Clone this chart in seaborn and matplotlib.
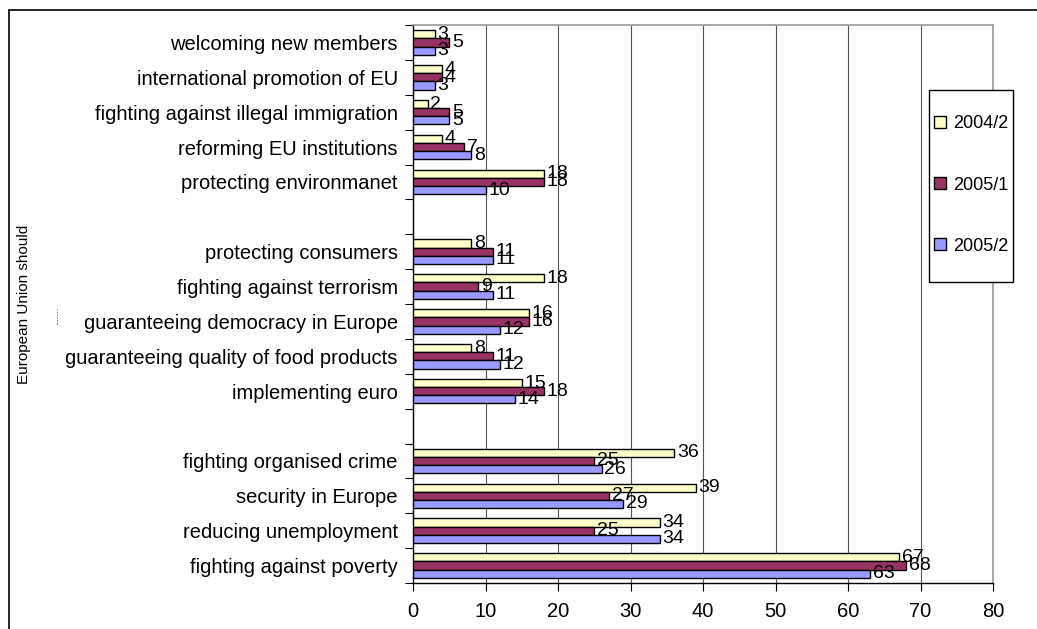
import matplotlib
matplotlib.use("Agg")
import matplotlib.pyplot as plt
import seaborn as sns
import pandas as pd
from matplotlib.patches import Patch, Rectangle
from matplotlib.lines import Line2D
from matplotlib.ticker import FixedLocator

# ---- data (top to bottom; blank = empty gap slot) ----
categories = [
    "welcoming new members",
    "international promotion of EU",
    "fighting against illegal immigration",
    "reforming EU institutions",
    "protecting environmanet",
    "",
    "protecting consumers",
    "fighting against terrorism",
    "guaranteeing democracy in Europe",
    "guaranteeing quality of food products",
    "implementing euro",
    " ",
    "fighting organised crime",
    "security in Europe",
    "reducing unemployment",
    "fighting against poverty",
]
series_names = ["2004/2", "2005/1", "2005/2"]
v2004_2 = [3, 4, 2, 4, 18, None, 8, 18, 16, 8, 15, None, 36, 39, 34, 67]
v2005_1 = [5, 4, 5, 7, 18, None, 11, 9, 16, 11, 18, None, 25, 27, 25, 68]
v2005_2 = [3, 3, 5, 8, 10, None, 11, 11, 12, 12, 14, None, 26, 29, 34, 63]
colors = ["#FFFFCC", "#993366", "#9999FF"]
x_ticks = [0, 10, 20, 30, 40, 50, 60, 70, 80]

rows = []
for name, vals in zip(series_names, [v2004_2, v2005_1, v2005_2]):
    for c, v in zip(categories, vals):
        if v is not None:
            rows.append({"cat": c, "series": name, "value": v})
df = pd.DataFrame(rows)

sns.set_theme(style="white")
plt.rcParams["font.family"] = ["Liberation Sans", "DejaVu Sans"]
plt.rcParams["text.color"] = "black"
plt.rcParams["xtick.color"] = "black"
plt.rcParams["ytick.color"] = "black"
plt.rcParams["xtick.labelcolor"] = "black"
plt.rcParams["ytick.labelcolor"] = "black"

W, H = 1037, 629
fig = plt.figure(figsize=(W / 100, H / 100), dpi=100)
ax = fig.add_axes([413 / W, 1 - 583 / H, (993 - 413) / W, (583 - 25) / H])

sns.barplot(data=df, y="cat", x="value", hue="series", order=categories,
            hue_order=series_names, palette=colors, orient="h", width=0.7,
            edgecolor="black", linewidth=1.0, saturation=1, ax=ax,
            legend=False, zorder=3)

for cont in ax.containers:
    ax.bar_label(cont, padding=2, fontsize=14, color="black", zorder=5)

ax.set_xlim(0, 80)
ax.set_ylim(len(categories) - 0.5, -0.5)
ax.xaxis.set_major_locator(FixedLocator(x_ticks))
ax.set_xticklabels([str(t) for t in x_ticks], fontsize=14.5, color="black")
ax.grid(axis="x", color="#555555", linewidth=0.8, zorder=0)
ax.set_axisbelow(True)

ax.set_yticks(range(len(categories)))
ax.set_yticklabels(categories, fontsize=14.5, color="black")
ax.tick_params(axis="y", which="major", length=0, pad=11)
ax.yaxis.set_minor_locator(FixedLocator([i - 0.5 for i in range(len(categories) + 1)]))
ax.tick_params(axis="y", which="minor", length=6, width=0.8, color="black", direction="out", left=True)
ax.tick_params(axis="x", which="major", length=6, width=0.8, color="black", direction="out", bottom=True, pad=8)
ax.set_xlabel("")
ax.set_ylabel("")

for s in ["left", "bottom"]:
    ax.spines[s].set_color("black")
    ax.spines[s].set_linewidth(1.0)
for s in ["top", "right"]:
    ax.spines[s].set_color("#999999")
    ax.spines[s].set_linewidth(1.2)

fig.text(24 / W, 1 - 304 / H, "European Union should", rotation=90,
         ha="center", va="center", fontsize=11, color="black")
fig.text(55 / W, 1 - 316 / H, ".......", rotation=90, ha="center",
         va="center", fontsize=7, color="black")

# legend frame
fig.add_artist(Rectangle((929 / W, 1 - 282 / H), (1013 - 929) / W, (282 - 90) / H,
                         transform=fig.transFigure, facecolor="white",
                         edgecolor="black", linewidth=1.0, zorder=4))
handles = [Patch(facecolor=c, edgecolor="black", linewidth=1.0) for c in colors]
leg = fig.legend(handles, series_names, loc="center",
                 bbox_to_anchor=(971 / W, 1 - 185 / H), borderaxespad=0,
                 fontsize=13, frameon=False,
                 handlelength=0.65, handleheight=0.65, handletextpad=0.4,
                 labelspacing=2.45, borderpad=0.2)
leg.set_zorder(6)

# outer chart border
fig.add_artist(Line2D([9 / W, 1], [1 - 10 / H, 1 - 10 / H], color="black", linewidth=1.2))
fig.add_artist(Line2D([9 / W, 9 / W], [0, 1 - 10 / H], color="black", linewidth=1.2))

fig.savefig("out.png", dpi=100)
